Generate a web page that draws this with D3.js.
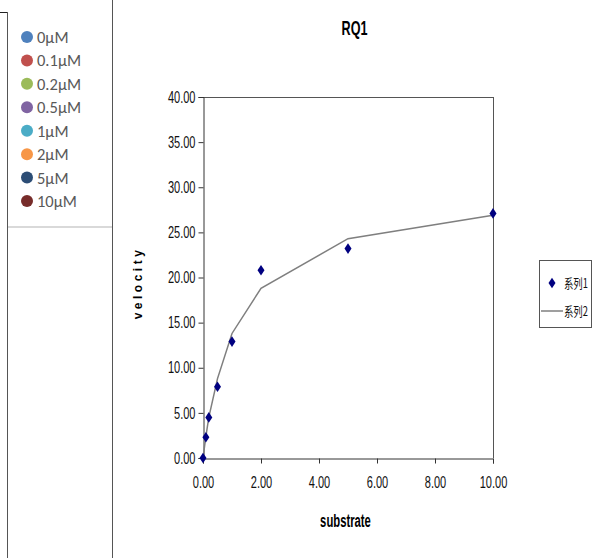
<!DOCTYPE html>
<html><head><meta charset="utf-8">
<script src="https://cdn.jsdelivr.net/npm/d3@7"></script>
<style>body{margin:0;background:#fff}svg{display:block}</style>
</head><body>
<script>
const substrate = [0, 0.1, 0.2, 0.5, 1, 2, 5, 10];
const velocity  = [0, 2.3, 4.5, 7.9, 12.9, 20.8, 23.2, 27.1];
const fitted    = [0, 2.4, 4.5, 8.8, 13.8, 18.8, 24.3, 26.9];
const xTicks = [0, 2, 4, 6, 8, 10];
const yTicks = [0, 5, 10, 15, 20, 25, 30, 35, 40];
const concLabels = ["0μM","0.1μM","0.2μM","0.5μM","1μM","2μM","5μM","10μM"];
const concColors = ["#4F81BD","#C0504D","#9BBB59","#8064A2","#4BACC6","#F79646","#2C4D75","#772C2A"];
const seriesNames = ["系列1","系列2"];

const W = 598, H = 558;
const svg = d3.select("body").append("svg").attr("width", W).attr("height", H);
const sans = "'Liberation Sans',Arial,sans-serif";
function squeeze(sel, s){
  sel.each(function(){
    const x = +this.getAttribute("x") || 0;
    this.setAttribute("transform", `translate(${x*(1-s)},0) scale(${s},1)`);
  });
}

// left panel
svg.append("line").attr("x1",0).attr("x2",7.5).attr("y1",12.5).attr("y2",12.5).attr("stroke","#222");
svg.append("line").attr("x1",7.5).attr("x2",7.5).attr("y1",12).attr("y2",H).attr("stroke","#555");
svg.append("line").attr("x1",112.5).attr("x2",112.5).attr("y1",0).attr("y2",H).attr("stroke","#555");
svg.append("line").attr("x1",8).attr("x2",112).attr("y1",227).attr("y2",227).attr("stroke","#d9d9d9").attr("stroke-width",2);
const lg = svg.append("g");
const ly = d3.scalePoint().domain(concLabels).range([37, 201]);
concLabels.forEach((l,i)=>{
  lg.append("circle").attr("cx",27).attr("cy",ly(l)).attr("r",6).attr("fill",concColors[i]);
  lg.append("text").attr("x",37).attr("y",ly(l)).attr("dy","0.36em")
    .attr("font-family","Carlito,Lato,'Open Sans',sans-serif").attr("font-size",16.5)
    .attr("fill","#595959").text(l);
});

// plot
const x = d3.scaleLinear().domain([0,10]).range([203, 493]);
const y = d3.scaleLinear().domain([0,40]).range([458, 97]);

svg.append("line").attr("x1",203).attr("x2",493.5).attr("y1",97.5).attr("y2",97.5).attr("stroke","#555");
svg.append("line").attr("x1",493.5).attr("x2",493.5).attr("y1",97).attr("y2",458).attr("stroke","#555");

const xa = svg.append("g").attr("transform","translate(0,458.5)")
  .call(d3.axisBottom(x).tickValues(xTicks).tickFormat(d3.format(".2f")).tickSizeOuter(0).tickSize(5).tickPadding(13));
const ya = svg.append("g").attr("transform","translate(203.5,0)")
  .call(d3.axisLeft(y).tickValues(yTicks).tickFormat(d3.format(".2f")).tickSizeOuter(0).tickSize(5).tickPadding(3));
[xa, ya].forEach(a=>{
  a.selectAll("path,line").attr("stroke","#333");
  a.selectAll("text").attr("font-family",sans).attr("font-size",16).attr("fill","#111");
  squeeze(a.selectAll("text"), 0.69);
});

// fitted line
svg.append("path").datum(substrate.map((s,i)=>[s,fitted[i]]))
  .attr("d", d3.line().x(d=>x(d[0])).y(d=>y(d[1])))
  .attr("fill","none").attr("stroke","#7f7f7f").attr("stroke-width",1.5);

// diamonds
const diamond = "M0,-5.3L3.5,0L0,5.3L-3.5,0Z";
svg.append("g").selectAll("path").data(substrate).join("path")
  .attr("d", diamond)
  .attr("transform",(d,i)=>`translate(${x(d)},${y(velocity[i])})`)
  .attr("fill","#000080");

// titles
const t1 = svg.append("text").attr("x",354.5).attr("y",35).attr("text-anchor","middle")
  .attr("font-family",sans).attr("font-weight","bold").attr("font-size",20).text("RQ1");
squeeze(t1, 0.63);
const t2 = svg.append("text").attr("x",345.5).attr("y",527).attr("text-anchor","middle")
  .attr("font-family",sans).attr("font-weight","bold").attr("font-size",18.5).text("substrate");
squeeze(t2, 0.61);
svg.append("text").attr("transform","translate(142,283) rotate(-90)").attr("text-anchor","middle")
  .attr("font-family",sans).attr("font-weight","bold")
  .attr("font-size",12).attr("letter-spacing","3.5px").text("velocity");

// right legend
svg.append("rect").attr("x",539.5).attr("y",260.5).attr("width",52).attr("height",67)
  .attr("fill","#fff").attr("stroke","#555");
svg.append("path").attr("d",diamond).attr("transform","translate(552,283)").attr("fill","#000080");
svg.append("line").attr("x1",541).attr("x2",563).attr("y1",311).attr("y2",311).attr("stroke","#7f7f7f").attr("stroke-width",1.5);
seriesNames.forEach((n,i)=>{
  const t = svg.append("text").attr("x",564).attr("y",[283,311][i]).attr("dy","0.36em")
    .attr("font-family","'Noto Sans CJK SC',sans-serif").attr("font-size",13).attr("fill","#111").text(n);
  squeeze(t, 0.72);
});
</script>
</body></html>
